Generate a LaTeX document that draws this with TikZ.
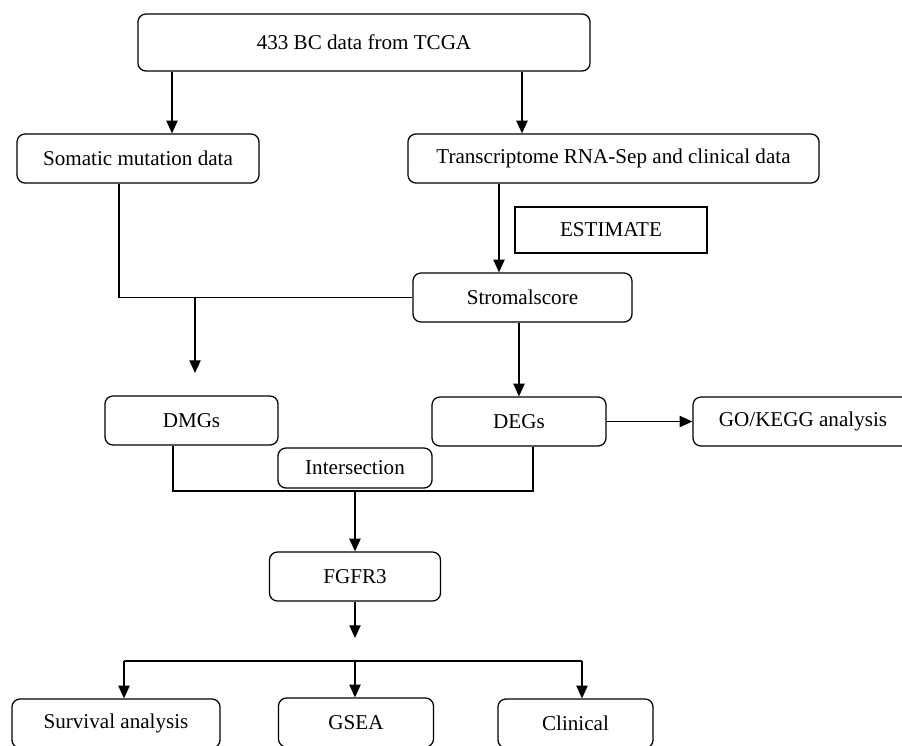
\documentclass[tikz,border=0pt]{standalone}
\usepackage{fontspec}
\setmainfont{Liberation Serif}
\usetikzlibrary{arrows.meta, positioning, calc}

\begin{document}
\begin{tikzpicture}[
    x=0.025cm, y=-0.025cm,
    stage/.style={rectangle, draw, line width=0.9pt, rounded corners=0.2cm, minimum height=1.225cm, inner sep=0pt, font=\fontsize{15}{18}\selectfont, align=center},
    tool/.style={rectangle, draw, line width=0.9pt, minimum height=1.15cm, inner sep=0pt, font=\fontsize{15}{18}\selectfont},
    link/.style={line width=0.9pt, -{Triangle[width=8pt, length=9pt]}},
    wire/.style={line width=0.9pt}
]
    \useasboundingbox (0,0) rectangle (902,745);
    \clip (0,0) rectangle (902,745);

    % Data sources
    \node[stage, minimum width=11.3cm, minimum height=1.425cm] (tcga) at (364, 42.5) {433 BC data from TCGA};
    \node[stage, minimum width=6.05cm] (soma) at (138, 158.5) {Somatic mutation data};
    \node[stage, minimum width=10.275cm] (trans) at (613.5, 158.5) {Transcriptome RNA-Sep and clinical data};

    % Scoring
    \node[tool, minimum width=4.8cm] (est) at (611, 230) {ESTIMATE};
    \node[stage, minimum width=5.475cm] (strom) at (522.5, 297.5) {Stromalscore};

    % Gene sets
    \node[stage, minimum width=4.325cm] (dmg) at (191.5, 420.5) {DMGs};
    \node[stage, minimum width=4.35cm] (deg) at (519, 421.5) {DEGs};
    \node[stage, minimum width=5.5cm] (go) at (803, 421.5) {GO/KEGG analysis};
    \node[stage, minimum width=3.85cm, minimum height=1cm] (inter) at (355, 468) {Intersection};
    \node[stage, minimum width=4.275cm] (fgf) at (355, 576.5) {FGFR3};

    % Outcomes
    \node[stage, minimum width=5.2cm] (surv) at (116, 723.5) {Survival analysis};
    \node[stage, minimum width=3.875cm] (gsea) at (356, 722.5) {GSEA};
    \node[stage, minimum width=3.875cm] (clin) at (575.5, 723.5) {Clinical};

    % Arrows from TCGA
    \coordinate (xa) at (172, 0);
    \coordinate (xb) at (522, 0);
    \draw[link] (tcga.south -| xa) -- (soma.north -| xa);
    \draw[link] (tcga.south -| xb) -- (trans.north -| xb);

    % Mutation line and stromal score
    \coordinate (xc) at (119, 0);
    \coordinate (dend) at (195, 373);
    \coordinate (xe) at (499, 0);
    \draw[wire] (soma.south -| xc) |- (strom.west);
    \draw[link] (strom.west -| dend) -- (dend);
    \draw[link] (trans.south -| xe) -- (strom.north -| xe);
    \draw[link] (strom.south -| deg.north) -- (deg.north);
    \draw[link] (deg.east) -- (go.west);

    % Intersection bracket
    \coordinate (bl) at (173, 491);
    \coordinate (br) at (533, 491);
    \draw[wire] (dmg.south -| bl) -- (bl) -- (br) -- (deg.south -| br);
    \draw[link] (fgf.north |- bl) -- (fgf.north);
    \coordinate (fend) at (355, 638);
    \draw[link] (fgf.south) -- (fend);

    % Branches
    \coordinate (hub) at (355, 661);
    \coordinate (hl) at (124, 661);
    \coordinate (hr) at (582, 661);
    \draw[wire] (hl) -- (hr);
    \draw[link] (hl) -- (surv.north -| hl);
    \draw[link] (hub) -- (gsea.north -| hub);
    \draw[link] (hr) -- (clin.north -| hr);
\end{tikzpicture}
\end{document}
